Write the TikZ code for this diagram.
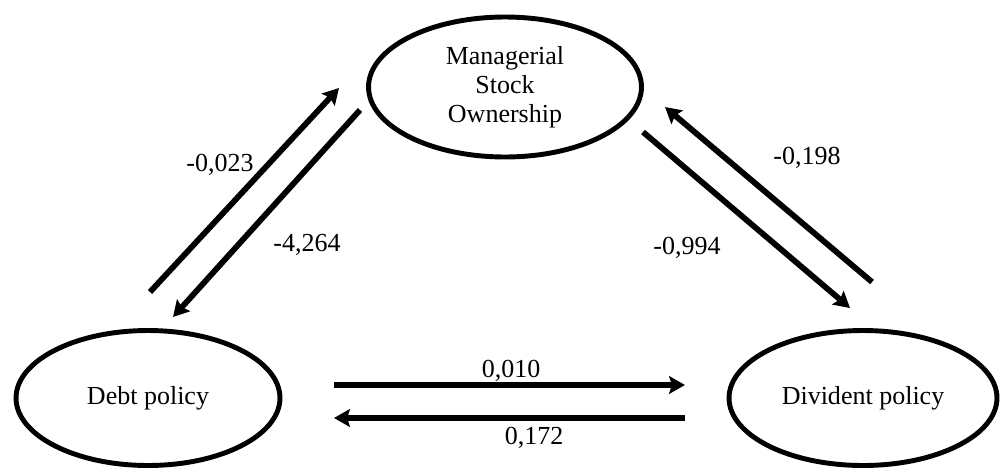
\documentclass[tikz,border=0pt]{standalone}
\usepackage{fontspec}
\setmainfont{Liberation Serif}
\usetikzlibrary{positioning,arrows.meta,shapes.geometric}

\begin{document}
\begin{tikzpicture}[
    x=0.02cm, y=-0.02cm,
    font=\fontsize{14.8}{16.5}\selectfont,
    >={Stealth[length=9pt,width=10pt,inset=1.5pt]},
    var/.style={draw, ellipse, line width=2.8pt, inner sep=0pt, align=center, minimum width=5.3cm, minimum height=2.7cm},
    effect/.style={->, line width=3.3pt},
    coef/.style={inner sep=1pt}
]
\useasboundingbox (0,0) rectangle (1000,474);

% Variablen
\node[var, minimum width=5.46cm, minimum height=2.8cm] (mso) at (505,87) {Managerial\\Stock\\Ownership};
\node[var, minimum width=5.28cm] (debt) at (148,398) {Debt policy};
\node[var, minimum width=5.36cm] (divi) at (863,398) {Divident policy};

% Endpunkte der Pfeile
\coordinate (dm_a) at (150,292);
\coordinate (dm_b) at (339,88);
\coordinate (md_a) at (360,110);
\coordinate (md_b) at (173,317);
\coordinate (vm_a) at (872,282);
\coordinate (vm_b) at (665,107);
\coordinate (mv_a) at (643,132);
\coordinate (mv_b) at (850,308);
\coordinate (dv_a) at (334,385);
\coordinate (dv_b) at (685,385);
\coordinate (vd_a) at (685,418);
\coordinate (vd_b) at (334,418);

% Pfeile
\draw[effect] (dm_a) -- (dm_b);
\draw[effect] (md_a) -- (md_b);
\draw[effect] (vm_a) -- (vm_b);
\draw[effect] (mv_a) -- (mv_b);
\draw[effect] (dv_a) -- (dv_b);
\draw[effect] (vd_a) -- (vd_b);

% Koeffizienten
\node[coef] (c_dm) at (220,165) {-0,023};
\node[coef] (c_md) at (307,245) {-4,264};
\node[coef] (c_vm) at (807,158) {-0,198};
\node[coef] (c_mv) at (687,248) {-0,994};
\node[coef] (c_dv) at (511,371) {0,010};
\node[coef] (c_vd) at (534,438) {0,172};

\end{tikzpicture}
\end{document}
